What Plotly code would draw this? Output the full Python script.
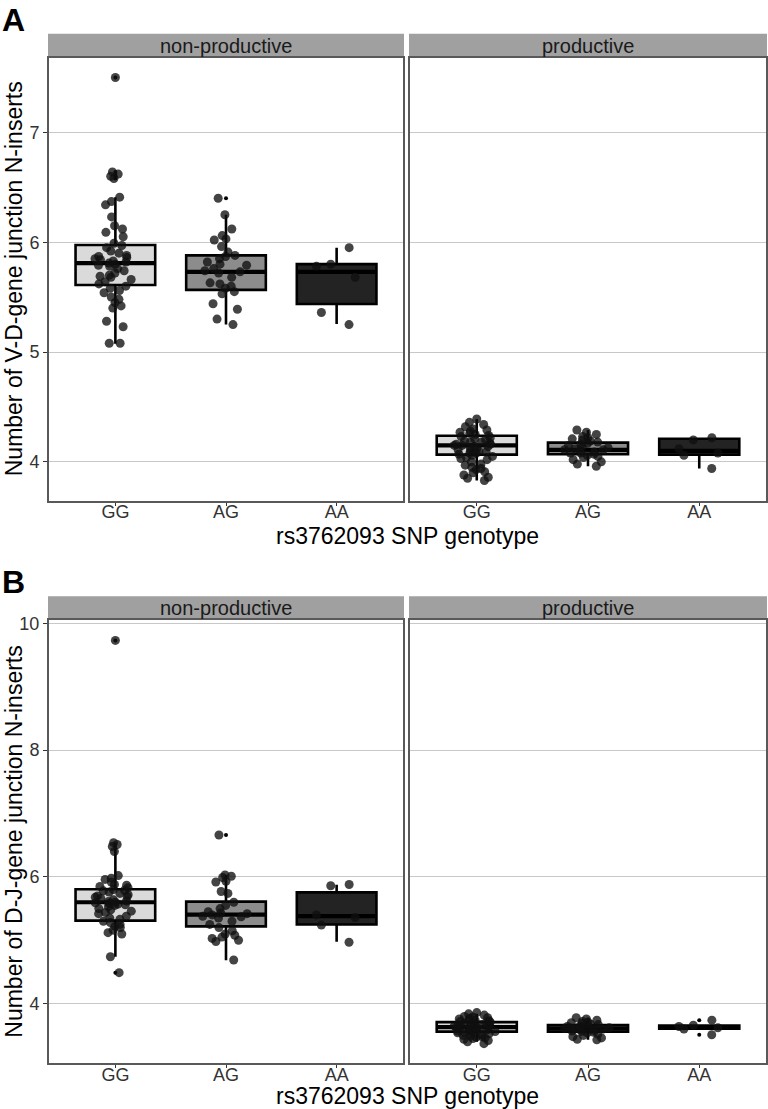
import plotly.graph_objects as go

GENOTYPES = ["GG", "AG", "AA"]
FACETS = ["non-productive", "productive"]
FILLS = {"GG": "#dadada", "AG": "#8c8c8c", "AA": "#232323"}

# ---------- Panel A: V-D junction N-inserts ----------
A_np_GG = [7.50, 6.64, 6.62, 6.60, 6.58, 6.41, 6.37, 6.34, 6.23, 6.15, 6.12, 6.09, 6.05, 5.99,
           5.97, 5.95, 5.92, 5.90, 5.88, 5.87, 5.86, 5.85, 5.84, 5.83, 5.82, 5.81, 5.80, 5.79,
           5.78, 5.76, 5.74, 5.72, 5.70, 5.69, 5.68, 5.66, 5.64, 5.62, 5.60, 5.58, 5.56, 5.54,
           5.50, 5.48, 5.45, 5.42, 5.40, 5.28, 5.23, 5.08, 5.08]
A_np_AG = [6.40, 6.25, 6.12, 6.06, 6.03, 6.02, 5.96, 5.91, 5.88, 5.87, 5.85, 5.82, 5.80, 5.79,
           5.76, 5.74, 5.73, 5.72, 5.68, 5.63, 5.62, 5.60, 5.58, 5.55, 5.53, 5.44, 5.39, 5.30, 5.25]
A_np_AA = [5.95, 5.80, 5.78, 5.68, 5.36, 5.25]
A_p_GG = [4.39, 4.36, 4.34, 4.32, 4.30, 4.29, 4.28, 4.27, 4.26, 4.25, 4.24, 4.23, 4.22, 4.21,
          4.20, 4.19, 4.18, 4.18, 4.17, 4.16, 4.16, 4.15, 4.15, 4.14, 4.14, 4.13, 4.12, 4.11,
          4.10, 4.10, 4.09, 4.08, 4.08, 4.07, 4.06, 4.05, 4.04, 4.03, 4.02, 4.00, 3.98, 3.97,
          3.95, 3.94, 3.93, 3.91, 3.90, 3.88, 3.86, 3.85, 3.83]
A_p_AG = [4.29, 4.27, 4.25, 4.23, 4.22, 4.21, 4.20, 4.19, 4.18, 4.17, 4.16, 4.15, 4.14, 4.13,
          4.12, 4.11, 4.11, 4.10, 4.09, 4.08, 4.08, 4.07, 4.06, 4.05, 4.04, 4.02, 4.00, 3.98, 3.96]
A_p_AA = [4.22, 4.20, 4.12, 4.08, 4.06, 3.94]

# box statistics: (q1, median, q3, lower whisker, upper whisker)
A_stats = {
    ("non-productive", "GG"): (5.61, 5.81, 5.975, 5.075, 6.41),
    ("non-productive", "AG"): (5.566, 5.73, 5.88, 5.25, 6.25),
    ("non-productive", "AA"): (5.437, 5.73, 5.80, 5.256, 5.95),
    ("productive", "GG"): (4.066, 4.15, 4.238, 3.83, 4.39),
    ("productive", "AG"): (4.07, 4.11, 4.175, 3.96, 4.29),
    ("productive", "AA"): (4.065, 4.10, 4.21, 3.94, 4.22),
}
A_outliers = {
    ("non-productive", "GG"): [7.50, 6.64, 6.62, 6.60, 6.58],
    ("non-productive", "AG"): [6.40],
}

# ---------- Panel B: D-J junction N-inserts ----------
B_np_GG = [9.73, 6.54, 6.51, 6.48, 6.40, 6.02, 5.98, 5.96, 5.92, 5.88, 5.87, 5.85, 5.83, 5.80,
           5.79, 5.78, 5.76, 5.74, 5.72, 5.70, 5.69, 5.68, 5.66, 5.64, 5.62, 5.61, 5.60, 5.59,
           5.58, 5.57, 5.56, 5.55, 5.53, 5.50, 5.48, 5.46, 5.44, 5.42, 5.38, 5.35, 5.33, 5.30,
           5.28, 5.25, 5.22, 5.20, 5.16, 5.12, 5.10, 4.74, 4.49]
B_np_AG = [6.66, 6.03, 6.01, 5.99, 5.93, 5.92, 5.77, 5.74, 5.60, 5.55, 5.50, 5.45, 5.43, 5.42,
           5.40, 5.38, 5.37, 5.35, 5.30, 5.25, 5.20, 5.15, 5.10, 5.08, 5.05, 5.03, 5.00, 4.98, 4.69]
B_np_AA = [5.88, 5.86, 5.40, 5.36, 5.24, 4.97]
B_p_GG = [3.86, 3.84, 3.82, 3.80, 3.79, 3.78, 3.77, 3.76, 3.75, 3.74, 3.73, 3.72, 3.71, 3.71,
          3.70, 3.69, 3.68, 3.67, 3.67, 3.66, 3.65, 3.65, 3.64, 3.63, 3.63, 3.62, 3.62, 3.61,
          3.60, 3.60, 3.59, 3.58, 3.58, 3.57, 3.56, 3.56, 3.55, 3.54, 3.53, 3.52, 3.51, 3.50,
          3.49, 3.48, 3.47, 3.46, 3.45, 3.44, 3.42, 3.40, 3.37]
B_p_AG = [3.78, 3.76, 3.74, 3.72, 3.71, 3.70, 3.69, 3.68, 3.67, 3.66, 3.65, 3.64, 3.63, 3.62,
          3.61, 3.61, 3.60, 3.59, 3.58, 3.57, 3.56, 3.55, 3.54, 3.52, 3.50, 3.48, 3.46, 3.44, 3.43]
B_p_AA = [3.74, 3.66, 3.64, 3.62, 3.60, 3.51]

B_stats = {
    ("non-productive", "GG"): (5.31, 5.60, 5.806, 4.74, 6.54),
    ("non-productive", "AG"): (5.22, 5.405, 5.61, 4.685, 6.03),
    ("non-productive", "AA"): (5.25, 5.38, 5.755, 4.976, 5.875),
    ("productive", "GG"): (3.56, 3.63, 3.71, 3.40, 3.84),
    ("productive", "AG"): (3.56, 3.61, 3.665, 3.43, 3.78),
    ("productive", "AA"): (3.605, 3.63, 3.655, 3.60, 3.66),
}
B_outliers = {
    ("non-productive", "GG"): [9.73, 4.49],
    ("non-productive", "AG"): [6.66],
    ("productive", "AA"): [3.51, 3.74],
}

A_points = {
    ("non-productive", "GG"): A_np_GG, ("non-productive", "AG"): A_np_AG, ("non-productive", "AA"): A_np_AA,
    ("productive", "GG"): A_p_GG, ("productive", "AG"): A_p_AG, ("productive", "AA"): A_p_AA,
}
B_points = {
    ("non-productive", "GG"): B_np_GG, ("non-productive", "AG"): B_np_AG, ("non-productive", "AA"): B_np_AA,
    ("productive", "GG"): B_p_GG, ("productive", "AG"): B_p_AG, ("productive", "AA"): B_p_AA,
}

Y_TITLES = ["Number of V-D-gene junction N-inserts", "Number of D-J-gene junction N-inserts"]
X_TITLE = "rs3762093 SNP genotype"
A_TICKS = [4, 5, 6, 7]
B_TICKS = [4, 6, 8, 10]

# ---------- layout geometry (pixels) ----------
W, H = 768, 1109
FONT = "Liberation Sans, Arial, sans-serif"
BOXW = 0.72
panel_x = [(49, 403), (410, 766)]
panel_y = {"A": (51, 497), "B": (617, 1063)}
xtitle_off = {"A": 35, "B": 33}
strip_h = 24

def px_x(p):
    return p / W

def px_y(p):
    return 1 - p / H

fig = go.Figure()

panels = [
    ("A", A_points, A_stats, A_outliers, [3.645, 7.68], A_TICKS, 1),
    ("B", B_points, B_stats, B_outliers, [3.06, 10.05], B_TICKS, 3),
]

annotations = []
shapes = []

for label, points, stats, outliers, yrange, yticks, axbase in panels:
    for fi, facet in enumerate(FACETS):
        axn = axbase + fi
        xref = "x" if axn == 1 else f"x{axn}"
        yref = "y" if axn == 1 else f"y{axn}"
        for g in GENOTYPES:
            q1, med, q3, lo, hi = stats[(facet, g)]
            fig.add_trace(go.Box(
                x=[g], q1=[q1], median=[med], q3=[q3], lowerfence=[lo], upperfence=[hi],
                width=BOXW, whiskerwidth=0, boxpoints=False, fillcolor=FILLS[g],
                line=dict(color="black", width=2.6), xaxis=xref, yaxis=yref,
                showlegend=False, hoverinfo="skip"))
            fig.add_trace(go.Box(
                x=[g], q1=[med], median=[med], q3=[med], lowerfence=[med], upperfence=[med],
                width=BOXW, whiskerwidth=0, boxpoints=False, fillcolor="black",
                line=dict(color="black", width=4.2), xaxis=xref, yaxis=yref,
                showlegend=False, hoverinfo="skip"))
            if (facet, g) in outliers:
                fig.add_trace(go.Box(
                    x=[g] * len(outliers[(facet, g)]), y=outliers[(facet, g)],
                    width=BOXW, boxpoints="all", jitter=0, pointpos=0,
                    fillcolor="rgba(0,0,0,0)", line=dict(color="rgba(0,0,0,0)", width=0),
                    marker=dict(color="black", size=4), xaxis=xref, yaxis=yref,
                    showlegend=False, hoverinfo="skip"))
            vals = points[(facet, g)]
            fig.add_trace(go.Box(
                x=[g] * len(vals), y=vals, width=BOXW, boxpoints="all", jitter=0.6, pointpos=0,
                fillcolor="rgba(0,0,0,0)", line=dict(color="rgba(0,0,0,0)", width=0),
                marker=dict(color="rgba(15,15,15,0.78)", size=9, line=dict(width=0)),
                xaxis=xref, yaxis=yref, showlegend=False, hoverinfo="skip"))

        x0, x1 = panel_x[fi]
        y0, y1 = panel_y[label]
        xa = dict(domain=[px_x(x0), px_x(x1)], anchor=yref, type="category",
                  categoryorder="array", categoryarray=GENOTYPES, range=[-0.6, 2.6],
                  showline=True, mirror=True, linecolor="#595959", linewidth=2,
                  ticks="outside", ticklen=3, tickcolor="#333333", tickwidth=1,
                  ticklabelstandoff=-9,
                  tickfont=dict(family=FONT, size=18, color="#333333"),
                  showgrid=False, zeroline=False, fixedrange=True)
        ya = dict(domain=[px_y(y1), px_y(y0)], anchor=xref, range=yrange, tickvals=yticks,
                  showline=True, mirror=True, linecolor="#595959", linewidth=2,
                  showgrid=True, gridcolor="#c8c8c8", gridwidth=1, zeroline=False,
                  tickfont=dict(family=FONT, size=18, color="#333333"), fixedrange=True)
        if fi == 0:
            ya.update(ticks="outside", ticklen=4, tickcolor="#333333", tickwidth=1)
        else:
            ya.update(ticks="", showticklabels=False, matches="y" if axbase == 1 else "y3")
        fig.update_layout(**{("xaxis" if axn == 1 else f"xaxis{axn}"): xa,
                             ("yaxis" if axn == 1 else f"yaxis{axn}"): ya})

        shapes.append(dict(type="rect", xref="paper", yref="paper",
                           x0=px_x(x0 - 1), x1=px_x(x1 + 1), y0=px_y(y0), y1=px_y(y0 - strip_h),
                           fillcolor="#a0a0a0", line=dict(width=0), layer="below"))
        annotations.append(dict(text=facet, xref="paper", yref="paper",
                                x=px_x((x0 + x1) / 2), y=px_y(y0 - strip_h / 2),
                                xanchor="center", yanchor="middle", showarrow=False,
                                font=dict(family=FONT, size=20, color="#1a1a1a")))

    y0, y1 = panel_y[label]
    annotations.append(dict(text=f"<b>{label}</b>", xref="paper", yref="paper",
                            x=0, y=px_y(y0 - strip_h - 14), xanchor="left", yanchor="middle",
                            showarrow=False, font=dict(family=FONT, size=32, color="black")))
    annotations.append(dict(text=Y_TITLES[0 if label == "A" else 1], xref="paper", yref="paper",
                            x=px_x(14), y=px_y((y0 + y1) / 2), xanchor="center", yanchor="middle",
                            textangle=-90, showarrow=False,
                            font=dict(family=FONT, size=23, color="black")))
    annotations.append(dict(text=X_TITLE, xref="paper", yref="paper",
                            x=px_x((panel_x[0][0] + panel_x[1][1]) / 2),
                            y=px_y(y1 + xtitle_off[label]),
                            xanchor="center", yanchor="middle", showarrow=False,
                            font=dict(family=FONT, size=23, color="black")))

fig.update_layout(width=W, height=H, margin=dict(l=0, r=0, t=0, b=0),
                  paper_bgcolor="white", plot_bgcolor="white", boxmode="overlay",
                  shapes=shapes, annotations=annotations, showlegend=False,
                  font=dict(family=FONT))

fig.write_html("out.html", config={"displayModeBar": False},
               post_script="document.body.style.margin='0';")
